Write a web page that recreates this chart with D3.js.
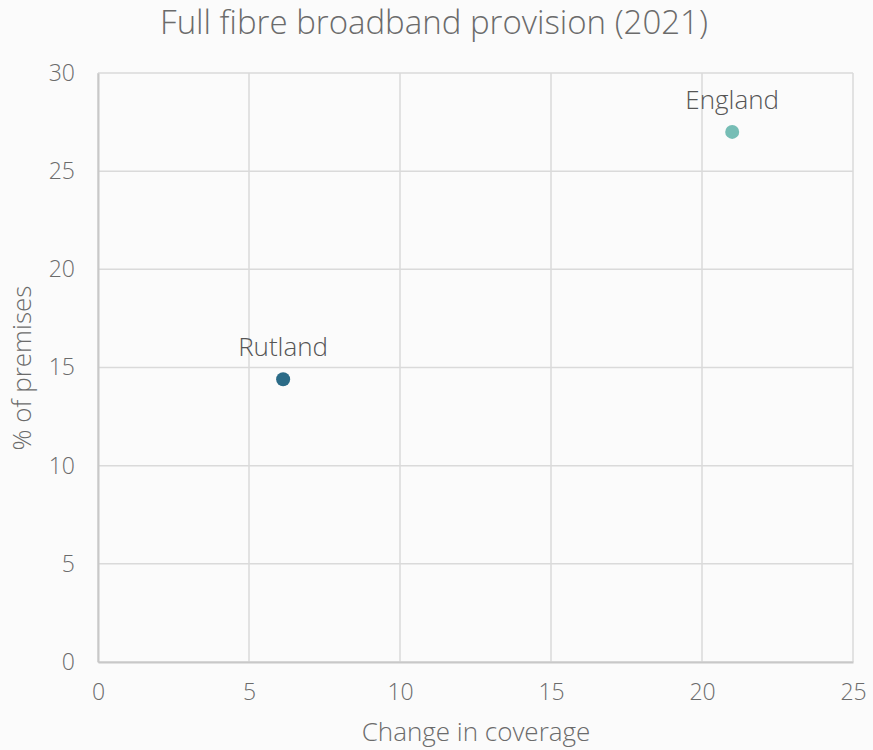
<!DOCTYPE html>
<html>
<head>
<meta charset="utf-8">
<script src="https://cdn.jsdelivr.net/npm/d3@7"></script>
<style>
  html, body { margin: 0; padding: 0; background: #fbfbfb; }
  svg { display: block; font-family: "Open Sans", Lato, sans-serif; font-weight: 300; }
</style>
</head>
<body>
<svg id="chart" width="873" height="750"></svg>
<script>
// Full fibre broadband provision, 2021
const areas = ["Rutland", "England"];
const changeInCoverage = [6.13, 21.0];
const pctPremises = [14.4, 27.0];
const pointColours = ["#2b6b87", "#76bdb5"];
const xTicks = [0, 5, 10, 15, 20, 25];
const yTicks = [0, 5, 10, 15, 20, 25, 30];

const svg = d3.select("#chart");
const margin = { left: 98, right: 20, top: 73, bottom: 88 };
const W = 873, H = 750;
const textCol = "#6b6b6b";

const x = d3.scaleLinear().domain([0, 25]).range([margin.left, W - margin.right]);
const y = d3.scaleLinear().domain([0, 30]).range([H - margin.bottom, margin.top]);

// grid
svg.append("g").selectAll("line").data(xTicks).join("line")
  .attr("x1", d => x(d)).attr("x2", d => x(d))
  .attr("y1", y(0)).attr("y2", y(30))
  .attr("stroke", "#dadada").attr("stroke-width", 1.5);
svg.append("g").selectAll("line").data(yTicks).join("line")
  .attr("x1", x(0)).attr("x2", x(25))
  .attr("y1", d => y(d)).attr("y2", d => y(d))
  .attr("stroke", "#dadada").attr("stroke-width", 1.5);

// axes
const xAxis = svg.append("g").attr("transform", `translate(0,${y(0)})`)
  .call(d3.axisBottom(x).tickValues(xTicks).tickSize(0).tickPadding(22));
const yAxis = svg.append("g").attr("transform", `translate(${x(0)},0)`)
  .call(d3.axisLeft(y).tickValues(yTicks).tickSize(0).tickPadding(23));
[xAxis, yAxis].forEach(a => {
  a.select(".domain").attr("stroke", "#c8c8c8").attr("stroke-width", 2);
  a.selectAll("text").attr("fill", textCol).style("font-size", "23px")
    .style("font-family", "'Open Sans', Lato, sans-serif").style("font-weight", 300);
});

// title and axis titles
svg.append("text").attr("x", 434).attr("y", 34).attr("text-anchor", "middle")
  .attr("fill", textCol).style("font-size", "33px").text("Full fibre broadband provision (2021)");
svg.append("text").attr("x", 476).attr("y", 741).attr("text-anchor", "middle")
  .attr("fill", textCol).style("font-size", "26px").text("Change in coverage");
svg.append("text").attr("transform", "translate(31,368) rotate(-90)").attr("text-anchor", "middle")
  .attr("fill", textCol).style("font-size", "26px").text("% of premises");

// points with labels
const pts = areas.map((a, i) => ({ name: a, cx: changeInCoverage[i], cy: pctPremises[i], c: pointColours[i] }));
svg.append("g").selectAll("circle").data(pts).join("circle")
  .attr("cx", d => x(d.cx)).attr("cy", d => y(d.cy)).attr("r", 7)
  .attr("fill", d => d.c);
svg.append("g").selectAll("text").data(pts).join("text")
  .attr("x", d => x(d.cx)).attr("y", d => y(d.cy) - 23)
  .attr("text-anchor", "middle").attr("fill", "#555")
  .style("font-size", "26px").text(d => d.name);
</script>
</body>
</html>
